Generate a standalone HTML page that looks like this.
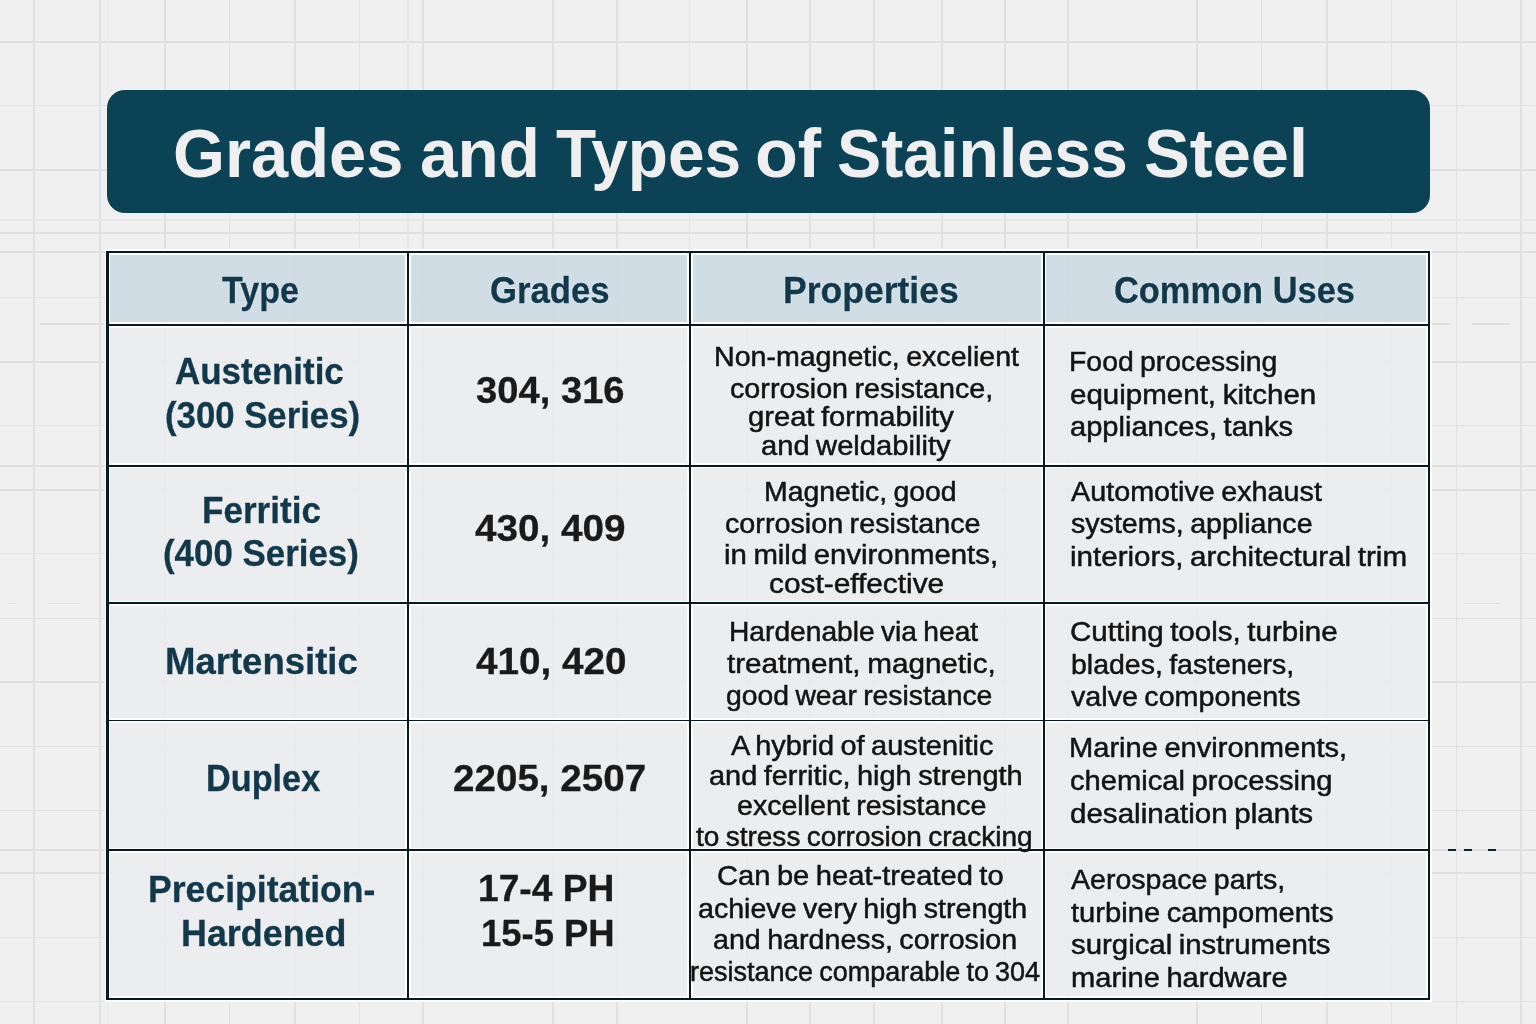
<!DOCTYPE html>
<html lang="en">
<head>
<meta charset="utf-8">
<title>Grades and Types of Stainless Steel</title>
<style>

html,body{margin:0;padding:0;background:#f0f0f0;}
body{width:1536px;height:1024px;overflow:hidden;font-family:"Liberation Sans",sans-serif;}
#page{position:relative;width:1536px;height:1024px;overflow:hidden;background:#f0f0f0;}
.gv,.gh{position:absolute;background:#e0e0e0;}
.gv{top:0;width:1.4px;height:1024px;}
.gh{left:0;height:1.4px;width:1536px;}
.banner{position:absolute;left:106.5px;top:90px;width:1323px;height:122.5px;background:#0c4255;border-radius:18px;}
.tbl{position:absolute;left:107.5px;top:251.9px;width:1321.4px;height:747px;background:rgba(235,236,237,0.85);}
.thead{position:absolute;left:0;top:0;width:100%;height:73.1px;background:rgba(203,217,226,0.85);}
.ln{position:absolute;background:#071a24;}
.hl{position:absolute;background:#fcfdfd;}
.t{position:absolute;white-space:nowrap;line-height:1;transform-origin:0 0;margin:0;padding:0;}
h1{margin:0;padding:0;font-weight:700;font-size:69px;}
.b{font-weight:700;-webkit-text-stroke:0.3px;}
.hd{text-shadow:0 0 1.5px #eef3f7,0 0 1.5px #eef3f7;}
.r{-webkit-text-stroke:0.5px;}

</style>
</head>
<body>
<div id="page">
<div class="grid" aria-hidden="true">
<div class="gv" style="left:33.3px"></div>
<div class="gv" style="left:99.3px"></div>
<div class="gv" style="left:164.3px"></div>
<div class="gv" style="left:228.8px"></div>
<div class="gv" style="left:294.3px"></div>
<div class="gv" style="left:358.8px"></div>
<div class="gv" style="left:422.3px"></div>
<div class="gv" style="left:552.3px"></div>
<div class="gv" style="left:616.3px"></div>
<div class="gv" style="left:746.3px"></div>
<div class="gv" style="left:809.3px"></div>
<div class="gv" style="left:873.3px"></div>
<div class="gv" style="left:941.3px"></div>
<div class="gv" style="left:1004.3px"></div>
<div class="gv" style="left:1067.3px"></div>
<div class="gv" style="left:1196.3px"></div>
<div class="gv" style="left:1260.8px"></div>
<div class="gv" style="left:1326.3px"></div>
<div class="gv" style="left:1390.8px"></div>
<div class="gv" style="left:1456.1px"></div>
<div class="gv" style="left:1520.3px"></div>
<div class="gh" style="top:41.3px"></div>
<div class="gh" style="top:104.8px"></div>
<div class="gh" style="top:169.3px"></div>
<div class="gh" style="top:232.3px"></div>
<div class="gh" style="top:296.5px"></div>
<div class="gh" style="top:361.3px"></div>
<div class="gh" style="top:424.9px"></div>
<div class="gh" style="top:489.3px"></div>
<div class="gh" style="top:552.9px"></div>
<div class="gh" style="top:617.5px"></div>
<div class="gh" style="top:681.3px"></div>
<div class="gh" style="top:745.8px"></div>
<div class="gh" style="top:809.6px"></div>
<div class="gh" style="top:872.3px"></div>
<div class="gh" style="top:936.8px"></div>
<div class="gh" style="top:1000.8px"></div>
</div>
<div style="position:absolute;left:0px;top:251.30px;width:106px;height:1.4px;background:#e0e0e0"></div>
<div style="position:absolute;left:1431px;top:251.30px;width:105px;height:1.4px;background:#e0e0e0"></div>
<div style="position:absolute;left:0px;top:465.30px;width:106px;height:1.4px;background:#e0e0e0"></div>
<div style="position:absolute;left:1431px;top:465.30px;width:105px;height:1.4px;background:#e0e0e0"></div>
<div style="position:absolute;left:0px;top:849.40px;width:106px;height:1.4px;background:#e0e0e0"></div>
<div style="position:absolute;left:1431px;top:849.40px;width:105px;height:1.4px;background:#e0e0e0"></div>
<div style="position:absolute;left:40px;top:323.30px;width:64px;height:1.4px;background:#e0e0e0"></div>
<div style="position:absolute;left:1431px;top:323.30px;width:19px;height:1.4px;background:#e0e0e0"></div>
<div style="position:absolute;left:1472px;top:323.30px;width:38px;height:1.4px;background:#e0e0e0"></div>
<div style="position:absolute;left:48px;top:602.50px;width:32px;height:1.4px;background:#e0e0e0"></div>
<div style="position:absolute;left:8px;top:602.50px;width:8px;height:1.4px;background:#e0e0e0"></div>
<div style="position:absolute;left:1464px;top:602.50px;width:36px;height:1.4px;background:#e0e0e0"></div>
<div style="position:absolute;left:0px;top:219.40px;width:1536px;height:1.2px;background:#e8e8e8"></div>
<div style="position:absolute;left:407.30px;top:0px;width:1.4px;height:90px;background:#e7e7e7"></div>
<div style="position:absolute;left:407.30px;top:213px;width:1.4px;height:38px;background:#e7e7e7"></div>
<div style="position:absolute;left:688.80px;top:0px;width:1.4px;height:90px;background:#e5e5e5"></div>
<div style="position:absolute;left:688.80px;top:213px;width:1.4px;height:38px;background:#e5e5e5"></div>
<div style="position:absolute;left:106.80px;top:0px;width:1.4px;height:90px;background:#e8e8e8"></div>
<div style="position:absolute;left:106.80px;top:1000px;width:1.4px;height:24px;background:#e8e8e8"></div>
<header class="banner"></header>
<section class="tbl"><div class="thead"></div></section>
<div class="hl" style="left:104.8px;top:249.2px;width:1326.8px;height:5.4px"></div>
<div class="hl" style="left:104.8px;top:996.2px;width:1326.8px;height:5.4px"></div>
<div class="hl" style="left:104.8px;top:249.2px;width:5.4px;height:752.4px"></div>
<div class="hl" style="left:1426.2px;top:249.2px;width:5.4px;height:752.4px"></div>
<div class="hl" style="left:405.4px;top:250.3px;width:5.2px;height:750.2px"></div>
<div class="hl" style="left:687.4px;top:250.3px;width:5.2px;height:750.2px"></div>
<div class="hl" style="left:1041.1px;top:250.3px;width:5.2px;height:750.2px"></div>
<div class="hl" style="left:105.9px;top:322.4px;width:1324.6px;height:5.2px"></div>
<div class="hl" style="left:105.9px;top:463.35px;width:1324.6px;height:5.1px"></div>
<div class="hl" style="left:105.9px;top:600.8px;width:1324.6px;height:4.9px"></div>
<div class="hl" style="left:105.9px;top:717.95px;width:1324.6px;height:4.7px"></div>
<div class="hl" style="left:105.9px;top:847.65px;width:1324.6px;height:4.9px"></div>
<div class="ln" style="left:106.4px;top:250.8px;width:1323.6px;height:2.2px"></div>
<div class="ln" style="left:106.4px;top:997.8px;width:1323.6px;height:2.2px"></div>
<div class="ln" style="left:106.4px;top:250.8px;width:2.2px;height:749.2px"></div>
<div class="ln" style="left:1427.8px;top:250.8px;width:2.2px;height:749.2px"></div>
<div class="ln" style="left:407px;top:251.9px;width:2px;height:747px"></div>
<div class="ln" style="left:689px;top:251.9px;width:2px;height:747px"></div>
<div class="ln" style="left:1042.7px;top:251.9px;width:2px;height:747px"></div>
<div class="ln" style="left:107.5px;top:324px;width:1321.4px;height:2px"></div>
<div class="ln" style="left:107.5px;top:464.95px;width:1321.4px;height:1.9px"></div>
<div class="ln" style="left:107.5px;top:602.4px;width:1321.4px;height:1.7px"></div>
<div class="ln" style="left:107.5px;top:719.55px;width:1321.4px;height:1.5px"></div>
<div class="ln" style="left:107.5px;top:849.25px;width:1321.4px;height:1.7px"></div>
<div style="position:absolute;left:1447.9px;top:849.1px;width:8.3px;height:2px;background:#10222c"></div>
<div style="position:absolute;left:1464px;top:849.1px;width:8.3px;height:2px;background:#10222c"></div>
<div style="position:absolute;left:1487.9px;top:849.1px;width:8.3px;height:2px;background:#10222c"></div>
<h1><span class="t" style="left:172.86px;top:119px;font-size:69px;color:#efefef;transform:scaleX(0.9691);">Grades</span> <span class="t" style="left:420.05px;top:119px;font-size:69px;color:#efefef;transform:scaleX(0.9775);">and</span> <span class="t" style="left:556.3px;top:119px;font-size:69px;color:#efefef;transform:scaleX(0.9530);">Types</span> <span class="t" style="left:754.77px;top:119px;font-size:69px;color:#efefef;transform:scaleX(1.0164);">of</span> <span class="t" style="left:836.64px;top:119px;font-size:69px;color:#efefef;transform:scaleX(0.9599);">Stainless</span> <span class="t" style="left:1144px;top:119px;font-size:69px;color:#efefef;transform:scaleX(0.9953);">Steel</span></h1>
<div class="t b hd" style="left:222.2px;top:272.9px;font-size:36.5px;color:#11394b;transform:scaleX(0.9315);">Type</div>
<div class="t b hd" style="left:490.3px;top:273.1px;font-size:36.5px;color:#11394b;transform:scaleX(0.9515);">Grades</div>
<div class="t b hd" style="left:783.05px;top:272.9px;font-size:36.5px;color:#11394b;transform:scaleX(0.9733);">Properties</div>
<div class="t b hd" style="left:1114.06px;top:272.8px;font-size:36.5px;color:#11394b;transform:scaleX(0.9427);">Common Uses</div>
<div class="t b" style="left:174.5px;top:353.75px;font-size:36.5px;color:#11394b;transform:scaleX(0.9566);">Austenitic</div>
<div class="t b" style="left:165.05px;top:398.2px;font-size:36.5px;color:#11394b;transform:scaleX(0.9518);">(300 Series)</div>
<div class="t b" style="left:201.83px;top:493.25px;font-size:36.5px;color:#11394b;transform:scaleX(0.9614);">Ferritic</div>
<div class="t b" style="left:162.79px;top:536.25px;font-size:36.5px;color:#11394b;transform:scaleX(0.9555);">(400 Series)</div>
<div class="t b" style="left:165px;top:643.75px;font-size:36.5px;color:#11394b;transform:scaleX(1.0006);">Martensitic</div>
<div class="t b" style="left:205.62px;top:760.75px;font-size:36.5px;color:#11394b;transform:scaleX(0.9386);">Duplex</div>
<div class="t b" style="left:148.05px;top:871.75px;font-size:36.5px;color:#11394b;transform:scaleX(0.9747);">Precipitation-</div>
<div class="t b" style="left:180.53px;top:916px;font-size:36.5px;color:#11394b;transform:scaleX(0.9829);">Hardened</div>
<div class="t b" style="left:475.6px;top:371.5px;font-size:37px;color:#1a1a1a;transform:scaleX(1.0317);">304, 316</div>
<div class="t b" style="left:475px;top:509.5px;font-size:37px;color:#1a1a1a;transform:scaleX(1.0457);">430, 409</div>
<div class="t b" style="left:475.5px;top:642.75px;font-size:37px;color:#1a1a1a;transform:scaleX(1.0457);">410, 420</div>
<div class="t b" style="left:453.46px;top:760.25px;font-size:37px;color:#1a1a1a;transform:scaleX(1.0432);">2205, 2507</div>
<div class="t b" style="left:477.99px;top:870px;font-size:37px;color:#1a1a1a;transform:scaleX(1.0037);">17-4 PH</div>
<div class="t b" style="left:480.53px;top:914.5px;font-size:37px;color:#1a1a1a;transform:scaleX(0.9848);">15-5 PH</div>
<div class="t r" style="left:714.17px;top:342.75px;font-size:27.5px;color:#131313;word-spacing:-1.5px;transform:scaleX(1.0390);">Non-magnetic, excelient</div>
<div class="t r" style="left:729.71px;top:375px;font-size:27.5px;color:#131313;word-spacing:-1.5px;transform:scaleX(1.0438);">corrosion resistance,</div>
<div class="t r" style="left:747.69px;top:403.25px;font-size:27.5px;color:#131313;word-spacing:-1.5px;transform:scaleX(1.0601);">great formability</div>
<div class="t r" style="left:761.44px;top:432px;font-size:27.5px;color:#131313;word-spacing:-1.5px;transform:scaleX(1.0596);">and weldability</div>
<div class="t r" style="left:763.68px;top:478.25px;font-size:27.5px;color:#131313;word-spacing:-1.5px;transform:scaleX(1.0328);">Magnetic, good</div>
<div class="t r" style="left:724.7px;top:510px;font-size:27.5px;color:#131313;word-spacing:-1.5px;transform:scaleX(1.0451);">corrosion resistance</div>
<div class="t r" style="left:723.93px;top:541.25px;font-size:27.5px;color:#131313;word-spacing:-1.5px;transform:scaleX(1.0671);">in mild environments,</div>
<div class="t r" style="left:768.92px;top:570px;font-size:27.5px;color:#131313;word-spacing:-1.5px;transform:scaleX(1.0845);">cost-effective</div>
<div class="t r" style="left:729.2px;top:617.75px;font-size:27.5px;color:#131313;word-spacing:-1.5px;transform:scaleX(1.0248);">Hardenable via heat</div>
<div class="t r" style="left:726.75px;top:649.75px;font-size:27.5px;color:#131313;word-spacing:-1.5px;transform:scaleX(1.0787);">treatment, magnetic,</div>
<div class="t r" style="left:726.47px;top:681.5px;font-size:27.5px;color:#131313;word-spacing:-1.5px;transform:scaleX(1.0307);">good wear resistance</div>
<div class="t r" style="left:731.25px;top:731.5px;font-size:27.5px;color:#131313;word-spacing:-1.5px;transform:scaleX(1.0527);">A hybrid of austenitic</div>
<div class="t r" style="left:708.95px;top:762px;font-size:27.5px;color:#131313;word-spacing:-1.5px;transform:scaleX(1.0520);">and ferritic, high strength</div>
<div class="t r" style="left:737.21px;top:792px;font-size:27.5px;color:#131313;word-spacing:-1.5px;transform:scaleX(1.0389);">excellent resistance</div>
<div class="t r" style="left:695.5px;top:823.25px;font-size:27.5px;color:#131313;word-spacing:-1.5px;transform:scaleX(1.0193);">to stress corrosion cracking</div>
<div class="t r" style="left:717.44px;top:862.25px;font-size:27.5px;color:#131313;word-spacing:-1.5px;transform:scaleX(1.0589);">Can be heat-treated to</div>
<div class="t r" style="left:698.46px;top:894.5px;font-size:27.5px;color:#131313;word-spacing:-1.5px;transform:scaleX(1.0399);">achieve very high strength</div>
<div class="t r" style="left:713.46px;top:925.75px;font-size:27.5px;color:#131313;word-spacing:-1.5px;transform:scaleX(1.0415);">and hardness, corrosion</div>
<div class="t r" style="left:690.27px;top:958px;font-size:27.5px;color:#131313;word-spacing:-1.5px;transform:scaleX(0.9825);">resistance comparable to 304</div>
<div class="t r" style="left:1069.18px;top:348.25px;font-size:27.5px;color:#131313;word-spacing:-1.5px;transform:scaleX(1.0327);">Food processing</div>
<div class="t r" style="left:1070.18px;top:380.75px;font-size:27.5px;color:#131313;word-spacing:-1.5px;transform:scaleX(1.0736);">equipment, kitchen</div>
<div class="t r" style="left:1070.19px;top:412.5px;font-size:27.5px;color:#131313;word-spacing:-1.5px;transform:scaleX(1.0574);">appliances, tanks</div>
<div class="t r" style="left:1071.25px;top:478.25px;font-size:27.5px;color:#131313;word-spacing:-1.5px;transform:scaleX(1.0452);">Automotive exhaust</div>
<div class="t r" style="left:1071.25px;top:510px;font-size:27.5px;color:#131313;word-spacing:-1.5px;transform:scaleX(1.0396);">systems, appliance</div>
<div class="t r" style="left:1070.17px;top:542.75px;font-size:27.5px;color:#131313;word-spacing:-1.5px;transform:scaleX(1.0757);">interiors, architectural trim</div>
<div class="t r" style="left:1070.18px;top:618.25px;font-size:27.5px;color:#131313;word-spacing:-1.5px;transform:scaleX(1.0739);">Cutting tools, turbine</div>
<div class="t r" style="left:1070.96px;top:651px;font-size:27.5px;color:#131313;word-spacing:-1.5px;transform:scaleX(1.0355);">blades, fasteners,</div>
<div class="t r" style="left:1071.25px;top:683.25px;font-size:27.5px;color:#131313;word-spacing:-1.5px;transform:scaleX(1.0426);">valve components</div>
<div class="t r" style="left:1069.13px;top:733.75px;font-size:27.5px;color:#131313;word-spacing:-1.5px;transform:scaleX(1.0577);">Marine environments,</div>
<div class="t r" style="left:1070.19px;top:767px;font-size:27.5px;color:#131313;word-spacing:-1.5px;transform:scaleX(1.0597);">chemical processing</div>
<div class="t r" style="left:1070.18px;top:799.5px;font-size:27.5px;color:#131313;word-spacing:-1.5px;transform:scaleX(1.0744);">desalination plants</div>
<div class="t r" style="left:1071.25px;top:866.25px;font-size:27.5px;color:#131313;word-spacing:-1.5px;transform:scaleX(1.0379);">Aerospace parts,</div>
<div class="t r" style="left:1071.25px;top:898.75px;font-size:27.5px;color:#131313;word-spacing:-1.5px;transform:scaleX(1.0601);">turbine campoments</div>
<div class="t r" style="left:1071.25px;top:931.25px;font-size:27.5px;color:#131313;word-spacing:-1.5px;transform:scaleX(1.0680);">surgical instruments</div>
<div class="t r" style="left:1070.69px;top:964.25px;font-size:27.5px;color:#131313;word-spacing:-1.5px;transform:scaleX(1.0575);">marine hardware</div>
</div>
</body>
</html>
